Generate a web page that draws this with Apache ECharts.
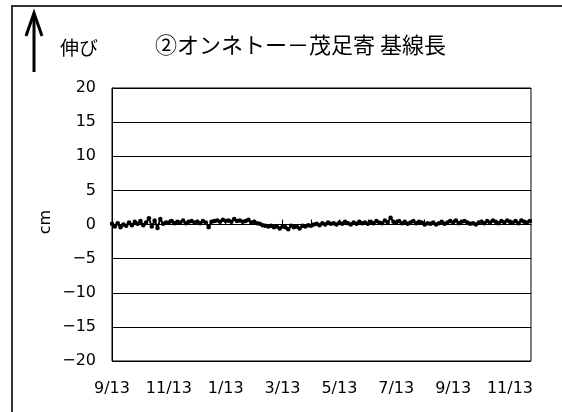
<!DOCTYPE html>
<html><head><meta charset="utf-8">
<script src="https://cdn.jsdelivr.net/npm/echarts@6/dist/echarts.min.js"></script>
<style>html,body{margin:0;padding:0;background:#fff}#c{width:562px;height:412px}</style>
</head><body><div id="c"></div>
<script>
const titleText = '②オンネトー－茂足寄 基線長';
const upLabel = '伸び';
const unitLabel = 'cm';
const monthTickLabels = ['9/13','10/13','11/13','12/13','1/13','2/13','3/13','4/13','5/13','6/13','7/13','8/13','9/13','10/13','11/13'];
const yTicks = [-20,-15,-10,-5,0,5,10,15,20];
// sample spacing in months (~3 days) and baseline-length change (cm)
const sampleStep = 0.1;
const values = [
  0.1,-0.3,0.2,-0.4,0.0,-0.2,0.3,-0.1,0.4,0.1,
  0.5,-0.1,0.3,0.9,-0.3,0.6,-0.5,0.8,0.1,0.3,
  0.3,0.5,0.2,0.4,0.3,0.6,0.2,0.4,0.5,0.3,
  0.4,0.2,0.5,0.3,-0.4,0.4,0.5,0.6,0.4,0.7,
  0.5,0.6,0.4,0.8,0.5,0.6,0.4,0.5,0.7,0.3,
  0.4,0.2,0.1,-0.1,-0.2,-0.3,-0.2,-0.4,-0.3,-0.6,
  -0.3,-0.4,-0.7,-0.2,-0.4,-0.3,-0.6,-0.2,-0.3,-0.1,
  -0.2,0.0,0.1,-0.1,0.2,0.0,0.3,0.1,0.2,0.0,
  0.3,0.1,0.4,0.2,0.0,0.3,0.1,0.4,0.2,0.3,
  0.1,0.4,0.2,0.5,0.3,0.2,0.6,0.3,1.0,0.4,
  0.3,0.5,0.2,0.4,0.1,0.3,0.5,0.2,0.4,0.3,
  0.0,0.2,0.1,0.3,0.0,0.2,0.4,0.1,0.3,0.5,
  0.3,0.6,0.2,0.4,0.5,0.3,0.1,0.2,0.0,0.3,
  0.4,0.2,0.5,0.3,0.6,0.4,0.2,0.5,0.3,0.6,
  0.4,0.3,0.5,0.2,0.6,0.4,0.3,0.5
];
const xMax = 14.74;

const data = values.map((v,i)=>[i*sampleStep, v]);
const numFont = 'DejaVu Sans';
const jpFont = 'Noto Sans CJK JP';

const chart = echarts.init(document.getElementById('c'), null, {renderer:'canvas'});
chart.setOption({
  backgroundColor:'#fff',
  animation:false,
  grid:{left:112,top:88,right:31,bottom:51,show:true,borderColor:'#000',borderWidth:1,backgroundColor:'transparent'},
  xAxis:{type:'value',min:0,max:xMax,interval:1,
    axisLine:{lineStyle:{color:'#000',width:1}},
    axisTick:{show:true,inside:true,length:5,lineStyle:{color:'#000'}},
    splitLine:{show:false},
    axisLabel:{color:'#000',fontFamily:numFont,fontSize:16,margin:20,showMaxLabel:false,
      formatter:(v)=>{const i=Math.round(v); return (i%2===0 && i<monthTickLabels.length)?monthTickLabels[i]:'';}}
  },
  yAxis:{type:'value',min:yTicks[0],max:yTicks[yTicks.length-1],interval:5,
    axisLine:{show:true,lineStyle:{color:'#000'}},
    axisTick:{show:false},
    splitLine:{show:true,lineStyle:{color:'#000',width:1}},
    axisLabel:{color:'#000',fontFamily:numFont,fontSize:16,margin:16,
      formatter:(v)=>String(v).replace('-','\u2212')}
  },
  series:[{type:'line',data:data,showSymbol:true,symbol:'circle',symbolSize:4.5,
    itemStyle:{color:'#000'},lineStyle:{color:'#000',width:2},z:5}],
  graphic:[
    {type:'polyline',shape:{points:[[12,412],[12,6],[562,6]]},style:{stroke:'#333',lineWidth:2,fill:null}},
    {type:'line',shape:{x1:34,y1:14,x2:34,y2:72},style:{stroke:'#000',lineWidth:3}},
    {type:'polyline',shape:{points:[[26,36],[34,13],[42,36]]},style:{stroke:'#000',lineWidth:3,fill:null}},
    {type:'text',x:60,y:48,style:{text:upLabel,font:'19px "'+jpFont+'"',fill:'#000',textVerticalAlign:'middle'}},
    {type:'text',x:155,y:45,style:{text:titleText,font:'22px "'+jpFont+'"',fill:'#000',textVerticalAlign:'middle'}},
    {type:'text',x:46,y:222,rotation:Math.PI/2,style:{text:unitLabel,font:'16px "'+numFont+'"',fill:'#000',textAlign:'center',textVerticalAlign:'middle'}}
  ]
});
</script></body></html>
